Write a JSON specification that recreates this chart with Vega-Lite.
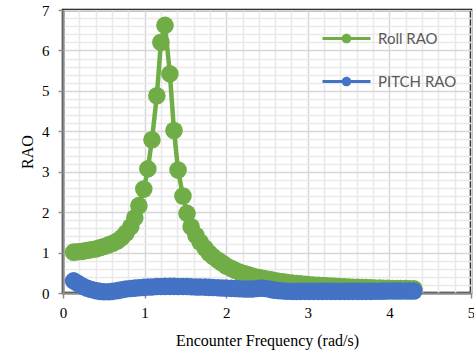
{
  "$schema": "https://vega.github.io/schema/vega-lite/v6.json",
  "autosize": "none",
  "width": 408,
  "height": 283,
  "padding": {"left": 63, "top": 10, "right": 3, "bottom": 63},
  "background": "white",
  "view": {"stroke": "#000000", "strokeWidth": 2.5},
  "datasets": {
    "roll": [
      {"f":0.13,"rao":1.01},{"f":0.18,"rao":1.02},{"f":0.24,"rao":1.03},{"f":0.29,"rao":1.05},{"f":0.34,"rao":1.07},
      {"f":0.40,"rao":1.09},{"f":0.45,"rao":1.12},{"f":0.50,"rao":1.15},{"f":0.56,"rao":1.19},{"f":0.61,"rao":1.23},
      {"f":0.67,"rao":1.29},{"f":0.72,"rao":1.37},{"f":0.77,"rao":1.48},{"f":0.83,"rao":1.64},{"f":0.88,"rao":1.86},
      {"f":0.93,"rao":2.16},{"f":0.99,"rao":2.57},{"f":1.04,"rao":3.07},{"f":1.09,"rao":3.79},{"f":1.15,"rao":4.88},
      {"f":1.20,"rao":6.20},{"f":1.25,"rao":6.62},{"f":1.31,"rao":5.42},{"f":1.36,"rao":4.02},{"f":1.41,"rao":3.04},
      {"f":1.47,"rao":2.40},{"f":1.52,"rao":1.97},{"f":1.57,"rao":1.64},{"f":1.63,"rao":1.42},{"f":1.68,"rao":1.26},
      {"f":1.74,"rao":1.11},{"f":1.79,"rao":0.99},{"f":1.84,"rao":0.90},{"f":1.90,"rao":0.81},{"f":1.95,"rao":0.74},
      {"f":2.00,"rao":0.67},{"f":2.06,"rao":0.61},{"f":2.11,"rao":0.56},{"f":2.16,"rao":0.52},{"f":2.22,"rao":0.48},
      {"f":2.27,"rao":0.45},{"f":2.32,"rao":0.42},{"f":2.38,"rao":0.39},{"f":2.43,"rao":0.37},{"f":2.48,"rao":0.35},
      {"f":2.54,"rao":0.33},{"f":2.59,"rao":0.31},{"f":2.64,"rao":0.29},{"f":2.70,"rao":0.275},{"f":2.75,"rao":0.26},
      {"f":2.81,"rao":0.245},{"f":2.86,"rao":0.235},{"f":2.91,"rao":0.225},{"f":2.97,"rao":0.215},{"f":3.02,"rao":0.205},
      {"f":3.07,"rao":0.197},{"f":3.13,"rao":0.19},{"f":3.18,"rao":0.183},{"f":3.23,"rao":0.176},{"f":3.29,"rao":0.17},
      {"f":3.34,"rao":0.164},{"f":3.39,"rao":0.158},{"f":3.45,"rao":0.153},{"f":3.50,"rao":0.148},{"f":3.55,"rao":0.144},
      {"f":3.61,"rao":0.14},{"f":3.66,"rao":0.136},{"f":3.71,"rao":0.132},{"f":3.77,"rao":0.128},{"f":3.82,"rao":0.125},
      {"f":3.88,"rao":0.122},{"f":3.93,"rao":0.119},{"f":3.98,"rao":0.116},{"f":4.04,"rao":0.113},{"f":4.09,"rao":0.111},
      {"f":4.14,"rao":0.109},{"f":4.20,"rao":0.107},{"f":4.25,"rao":0.105},{"f":4.30,"rao":0.103}
    ],
    "pitch": [
      {"f":0.13,"rao":0.30},{"f":0.18,"rao":0.24},{"f":0.24,"rao":0.17},{"f":0.29,"rao":0.12},{"f":0.34,"rao":0.09},
      {"f":0.40,"rao":0.06},{"f":0.45,"rao":0.04},{"f":0.50,"rao":0.03},{"f":0.56,"rao":0.03},{"f":0.61,"rao":0.04},
      {"f":0.67,"rao":0.06},{"f":0.72,"rao":0.08},{"f":0.77,"rao":0.10},{"f":0.83,"rao":0.11},{"f":0.88,"rao":0.12},
      {"f":0.93,"rao":0.13},{"f":0.99,"rao":0.14},{"f":1.04,"rao":0.15},{"f":1.09,"rao":0.15},{"f":1.15,"rao":0.16},
      {"f":1.20,"rao":0.16},{"f":1.25,"rao":0.165},{"f":1.31,"rao":0.165},{"f":1.36,"rao":0.165},{"f":1.41,"rao":0.16},
      {"f":1.47,"rao":0.16},{"f":1.52,"rao":0.16},{"f":1.57,"rao":0.155},{"f":1.63,"rao":0.15},{"f":1.68,"rao":0.15},
      {"f":1.74,"rao":0.145},{"f":1.79,"rao":0.14},{"f":1.84,"rao":0.135},{"f":1.90,"rao":0.13},{"f":1.95,"rao":0.125},
      {"f":2.00,"rao":0.12},{"f":2.06,"rao":0.115},{"f":2.11,"rao":0.11},{"f":2.16,"rao":0.105},{"f":2.22,"rao":0.10},
      {"f":2.27,"rao":0.10},{"f":2.32,"rao":0.10},{"f":2.38,"rao":0.11},{"f":2.43,"rao":0.12},{"f":2.48,"rao":0.11},
      {"f":2.54,"rao":0.09},{"f":2.59,"rao":0.07},{"f":2.64,"rao":0.06},{"f":2.70,"rao":0.05},{"f":2.75,"rao":0.045},
      {"f":2.81,"rao":0.04},{"f":2.86,"rao":0.04},{"f":2.91,"rao":0.04},{"f":2.97,"rao":0.04},{"f":3.02,"rao":0.04},
      {"f":3.07,"rao":0.04},{"f":3.13,"rao":0.04},{"f":3.18,"rao":0.04},{"f":3.23,"rao":0.04},{"f":3.29,"rao":0.04},
      {"f":3.34,"rao":0.04},{"f":3.39,"rao":0.04},{"f":3.45,"rao":0.04},{"f":3.50,"rao":0.04},{"f":3.55,"rao":0.04},
      {"f":3.61,"rao":0.04},{"f":3.66,"rao":0.04},{"f":3.71,"rao":0.04},{"f":3.77,"rao":0.04},{"f":3.82,"rao":0.042},
      {"f":3.88,"rao":0.044},{"f":3.93,"rao":0.046},{"f":3.98,"rao":0.048},{"f":4.04,"rao":0.05},{"f":4.09,"rao":0.05},
      {"f":4.14,"rao":0.05},{"f":4.20,"rao":0.05},{"f":4.25,"rao":0.05},{"f":4.30,"rao":0.05}
    ]
  },
  "encoding": {
    "x": {"field": "f", "type": "quantitative",
      "scale": {"domain": [0, 5], "nice": false, "zero": false},
      "axis": {
        "title": "Encounter Frequency (rad/s)",
        "values": [0,0.2,0.4,0.6,0.8,1,1.2,1.4,1.6,1.8,2,2.2,2.4,2.6,2.8,3,3.2,3.4,3.6,3.8,4,4.2,4.4,4.6,4.8,5],
        "tickCount": 1000,
        "labelExpr": "abs(datum.value - round(datum.value)) < 0.001 ? format(datum.value, 'd') : ''",
        "gridColor": {"condition": {"test": "abs(datum.value - round(datum.value)) < 0.001", "value": "#d6d6d6"}, "value": "#e9e9e9"},
        "gridWidth": {"condition": {"test": "abs(datum.value - round(datum.value)) < 0.001", "value": 1.5}, "value": 1.6},
        "tickOpacity": {"condition": {"test": "abs(datum.value - round(datum.value)) < 0.001", "value": 1}, "value": 0},
        "titlePadding": 12,
        "labelPadding": 7
      }
    },
    "y": {"field": "rao", "type": "quantitative",
      "scale": {"domain": [0, 7], "nice": false, "zero": false},
      "axis": {
        "title": "RAO",
        "values": [0,0.2,0.4,0.6,0.8,1,1.2,1.4,1.6,1.8,2,2.2,2.4,2.6,2.8,3,3.2,3.4,3.6,3.8,4,4.2,4.4,4.6,4.8,5,5.2,5.4,5.6,5.8,6,6.2,6.4,6.6,6.8,7],
        "tickCount": 1000,
        "labelExpr": "abs(datum.value - round(datum.value)) < 0.001 ? format(datum.value, 'd') : ''",
        "gridColor": {"condition": {"test": "abs(datum.value - round(datum.value)) < 0.001", "value": "#d6d6d6"}, "value": "#e9e9e9"},
        "gridWidth": {"condition": {"test": "abs(datum.value - round(datum.value)) < 0.001", "value": 1.5}, "value": 1.6},
        "tickOpacity": {"condition": {"test": "abs(datum.value - round(datum.value)) < 0.001", "value": 1}, "value": 0},
        "titlePadding": 6,
        "labelPadding": 9
      }
    }
  },
  "layer": [
    {
      "data": {"name": "roll"},
      "mark": {"type": "line", "color": "#70AD47", "strokeWidth": 4.5}
    },
    {
      "data": {"name": "pitch"},
      "mark": {"type": "line", "color": "#4472C4", "strokeWidth": 4.5}
    },
    {
      "data": {"name": "roll"},
      "mark": {"type": "point", "filled": true, "opacity": 1, "size": 310, "shape": "circle"},
      "encoding": {
        "color": {"datum": "Roll RAO", "type": "nominal"}
      }
    },
    {
      "data": {"name": "pitch"},
      "mark": {"type": "point", "filled": true, "opacity": 1, "size": 310, "shape": "circle"},
      "encoding": {
        "color": {"datum": "PITCH RAO", "type": "nominal"}
      }
    }
  ],
  "config": {
    "font": "Liberation Serif",
    "axis": {
      "labelFont": "Liberation Serif",
      "labelFontSize": 15,
      "labelColor": "#000000",
      "titleFont": "Liberation Serif",
      "titleFontSize": 16,
      "titleFontWeight": "normal",
      "titleColor": "#000000",
      "domainColor": "#8c8c8c",
      "domainWidth": 2,
      "tickColor": "#8c8c8c",
      "tickWidth": 1.5,
      "tickSize": 5,
      "labelFlush": false,
      "labelOverlap": false
    },
    "range": {"category": ["#70AD47", "#4472C4"]},
    "legend": {
      "orient": "none",
      "legendX": 276,
      "legendY": 21,
      "title": null,
      "padding": 0,
      "symbolType": "M -4 -0.25 L 4 -0.25 L 4 0.25 L -4 0.25 Z M 0.8 0 A 0.8 0.8 0 1 1 -0.8 0 A 0.8 0.8 0 1 1 0.8 0 Z",
      "symbolSize": 144,
      "symbolStrokeWidth": 0,
      "symbolOpacity": 1,
      "labelOffset": 24,
      "rowPadding": 27,
      "labelFont": "Lato",
      "labelFontSize": 15,
      "labelColor": "#595959"
    }
  }
}
